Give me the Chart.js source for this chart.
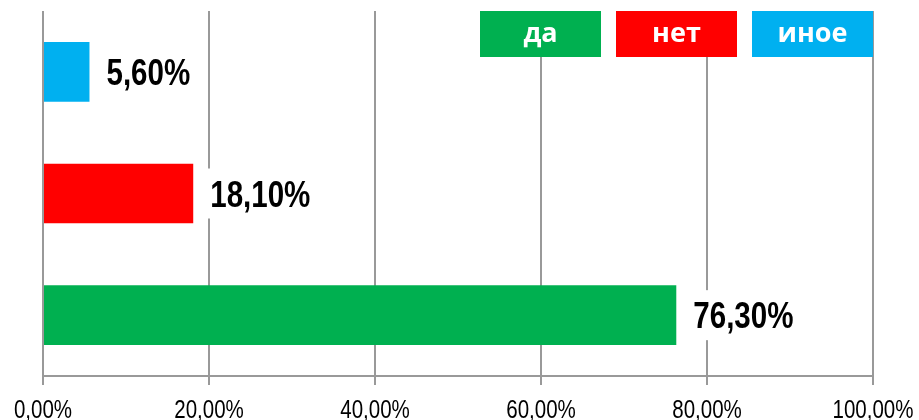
<!DOCTYPE html>
<html>
<head>
<meta charset="utf-8">
<script src="https://cdn.jsdelivr.net/npm/chart.js@4"></script>
<style>
  html, body { margin: 0; padding: 0; background: #fff; }
  #wrap { width: 919px; height: 420px; }
</style>
</head>
<body>
<div id="wrap"><canvas id="chart" width="919" height="420"></canvas></div>
<script>
// bars, top to bottom
const categories = ["иное", "нет", "да"];
const values = [5.6, 18.1, 76.3];
const valueLabels = ["5,60%", "18,10%", "76,30%"];
const barColors = ["#00B0F0", "#FF0000", "#00B050"];

// legend, left to right
const legendNames = ["да", "нет", "иное"];
const legendColors = ["#00B050", "#FF0000", "#00B0F0"];

const xTickLabels = ["0,00%", "20,00%", "40,00%", "60,00%", "80,00%", "100,00%"];

// no narrow font installed, so squeeze Liberation Sans sideways
const squeeze = 0.82;

function narrowText(ctx, text, x, y, align) {
  const w = ctx.measureText(text).width * squeeze;
  let left = x;
  if (align === "center") left = x - w / 2;
  ctx.save();
  ctx.translate(left, y);
  ctx.scale(squeeze, 1);
  ctx.textAlign = "left";
  ctx.fillText(text, 0, 0);
  ctx.restore();
  return w;
}

// value labels on a white box right of each bar
const barLabels = {
  id: "barLabels",
  afterDatasetsDraw(chart) {
    const ctx = chart.ctx;
    const meta = chart.getDatasetMeta(0);
    ctx.save();
    ctx.font = "bold 36px 'Liberation Sans', Arial, sans-serif";
    ctx.textBaseline = "alphabetic";
    meta.data.forEach(function (bar, i) {
      const text = valueLabels[i];
      const w = ctx.measureText(text).width * squeeze;
      const x = bar.x + 17;
      ctx.fillStyle = "#fff";
      ctx.fillRect(x - 8, bar.y - 25, w + 16, 50);
      ctx.fillStyle = "#000";
      narrowText(ctx, text, x, bar.y + 13, "left");
    });
    ctx.restore();
  }
};

// tick labels under the x axis
const xTicks = {
  id: "xTicks",
  afterDraw(chart) {
    const ctx = chart.ctx;
    const sx = chart.scales.x;
    ctx.save();
    ctx.font = "25px 'Liberation Sans', Arial, sans-serif";
    ctx.fillStyle = "#000";
    ctx.textBaseline = "alphabetic";
    sx.ticks.forEach(function (t, i) {
      narrowText(ctx, xTickLabels[i], sx.getPixelForValue(t.value), 418, "center");
    });
    ctx.restore();
  }
};

// coloured boxes with white names, top right
const boxLegend = {
  id: "boxLegend",
  afterDraw(chart) {
    const ctx = chart.ctx;
    const area = chart.chartArea;
    const w = 121, h = 46, gap = 15, top = 11;
    ctx.save();
    ctx.font = "bold 27px 'Open Sans', sans-serif";
    ctx.textAlign = "center";
    ctx.textBaseline = "middle";
    let x = area.right - legendNames.length * w - (legendNames.length - 1) * gap;
    legendNames.forEach(function (name, i) {
      ctx.fillStyle = legendColors[i];
      ctx.fillRect(x, top, w, h);
      ctx.fillStyle = "#fff";
      ctx.fillText(name, x + w / 2, top + h / 2);
      x += w + gap;
    });
    ctx.restore();
  }
};

new Chart(document.getElementById("chart").getContext("2d"), {
  type: "bar",
  data: {
    labels: categories,
    datasets: [{
      data: values,
      backgroundColor: barColors,
      barPercentage: 0.49,
      categoryPercentage: 1
    }]
  },
  options: {
    indexAxis: "y",
    responsive: false,
    animation: false,
    layout: { padding: { left: 43, right: 46, top: 11, bottom: 0 } },
    plugins: {
      legend: { display: false },
      tooltip: { enabled: false }
    },
    scales: {
      x: {
        min: 0,
        max: 100,
        ticks: { stepSize: 20, display: false },
        grid: { color: "#999", lineWidth: 2, tickLength: 9 },
        border: { color: "#999", width: 2 },
        afterFit: function (scale) { scale.height = 44; }
      },
      y: { display: false }
    }
  },
  plugins: [barLabels, xTicks, boxLegend]
});
</script>
</body>
</html>
